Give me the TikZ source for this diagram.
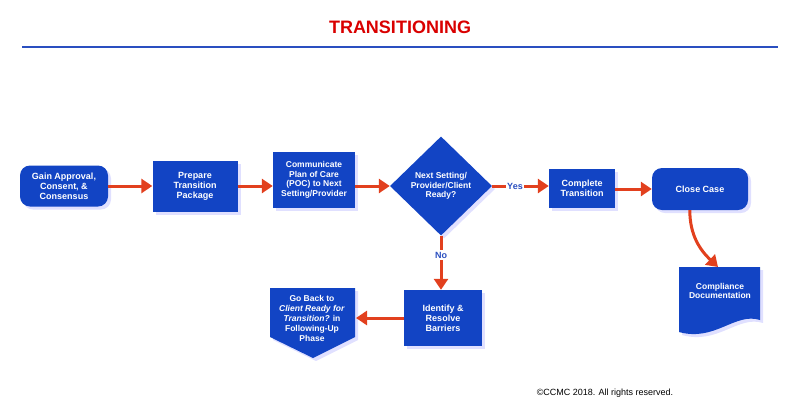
\documentclass[tikz,border=0pt]{standalone}
\usepackage{fontspec}
\setmainfont{Liberation Sans}
\usetikzlibrary{shapes.geometric,arrows.meta,shadows}
\definecolor{bx}{HTML}{1244C4}
\definecolor{ar}{HTML}{E2401E}
\definecolor{ln}{HTML}{2A4FC0}
\tikzset{
  box/.style={fill=bx,text=white,font=\bfseries\fontsize{9}{10}\selectfont,align=center,inner sep=2pt,
    drop shadow={shadow xshift=3pt,shadow yshift=-3pt,fill=blue!12,opacity=1}},
  rbox/.style={box,rounded corners=10pt},
  arr/.style={draw=ar,line width=3pt,-{Triangle[length=11pt,width=14pt]}},
  lbl/.style={font=\bfseries\fontsize{9}{10}\selectfont,text=ln,fill=white,inner sep=1.5pt}
}
\begin{document}
\begin{tikzpicture}[x=1pt,y=-1pt]
\useasboundingbox (0,0) rectangle (800,416);
\node[font=\bfseries\fontsize{18}{20}\selectfont,text=red!85!black] (title) at (400,27) {TRANSITIONING};
\draw[ln,line width=1.4pt] (22,47) coordinate (l1) -- (778,47) coordinate (l2);
\node[rbox,minimum width=88pt,minimum height=41pt] (gain) at (64,186) {Gain Approval,\\Consent, \&\\Consensus};
\node[box,minimum width=85pt,minimum height=51pt] (prep) at (195,186) {Prepare\\Transition\\Package};
\node[box,minimum width=82pt,minimum height=56pt,font=\bfseries\fontsize{8.5}{9.5}\selectfont] (comm) at (314,180) {Communicate\\Plan of Care\\(POC) to Next\\Setting/Provider};
\node[box,diamond,minimum width=102pt,minimum height=99pt,inner sep=0pt,font=\bfseries\fontsize{8.5}{9.5}\selectfont] (dec) at (441,186) {Next Setting/\\Provider/Client\\Ready?};
\node[box,minimum width=66pt,minimum height=39pt] (comp) at (582,188) {Complete\\Transition};
\node[rbox,minimum width=96pt,minimum height=42pt] (close) at (700,189) {Close Case};
\node[box,minimum width=78pt,minimum height=56pt] (iden) at (443,318) {Identify \&\\Resolve\\Barriers};
% compliance document
\fill[blue!12] (682,270) -- (763,270) -- (763,323) .. controls (738,315) and (718,345) .. (682,335) -- cycle;
\fill[bx] (679,267) -- (760,267) -- (760,320) .. controls (735,312) and (715,342) .. (679,332) -- cycle;
\node[text=white,align=center,font=\bfseries\fontsize{8.5}{9.5}\selectfont] (doc) at (720,291) {Compliance\\Documentation};
% go back pentagon
\fill[blue!12] (273,291) -- (358,291) -- (358,340) -- (316,361) -- (273,340) -- cycle;
\fill[bx] (270,288) -- (355,288) -- (355,337) -- (313,358) -- (270,337) -- cycle;
\node[text=white,align=center,font=\bfseries\fontsize{8.5}{10}\selectfont] (back) at (312,318) {Go Back to\\\textit{Client Ready for}\\\textit{Transition?} in\\Following-Up\\Phase};
\coordinate (backr) at (356,318);
\coordinate (doct) at (718,267);
\draw[arr] (gain) -- (prep);
\draw[arr] (prep.east) -- (prep.east -| comm.west);
\draw[arr] (comm.east |- dec) -- (dec.west);
\draw[arr] (dec.east) -- (comp.west |- dec);
\draw[arr] (comp.east |- close) -- (close.west);
\draw[arr] (dec.south) -- (iden.north -| dec.south);
\draw[arr] (iden.west) -- (backr);
\draw[arr] (close.south west) ++(38,0) .. controls +(0,25) and (700,250) .. (doct);
\node[lbl] (yes) at (515,186) {Yes};
\node[lbl] (no) at (441,255) {No};
\node[font=\fontsize{9}{11}\selectfont] (copy) at (605,393) {©CCMC 2018. All rights reserved.};
\end{tikzpicture}
\end{document}
